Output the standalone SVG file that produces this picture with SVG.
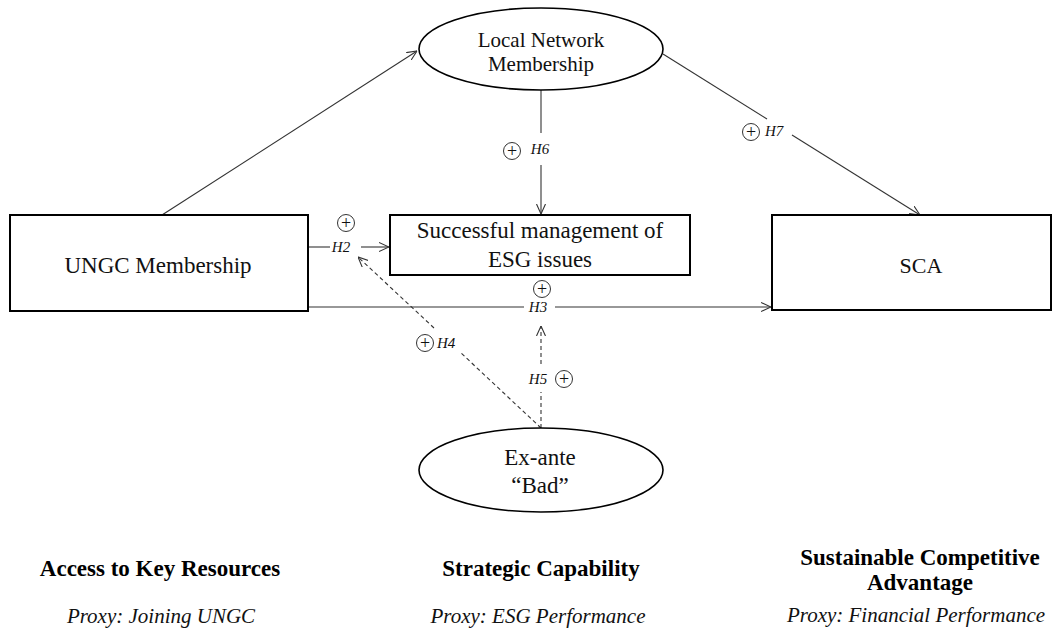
<svg xmlns="http://www.w3.org/2000/svg" width="1062" height="628" viewBox="0 0 1062 628">
  <style>
    .node { fill: #fff; stroke: #000; stroke-width: 2; }
    .ell { fill: #fff; stroke: #000; stroke-width: 1.6; }
    .lbl { font-family: "Liberation Serif", "Times New Roman", serif; fill: #111; text-anchor: middle; }
    .conn { stroke: #333; stroke-width: 1.1; fill: none; }
    .dash { stroke-dasharray: 4 3; }
    .hyp { font-family: "Liberation Serif", "Times New Roman", serif; font-style: italic; font-size: 15px; fill: #111; }
    .sign circle { fill: #fff; stroke: #333; stroke-width: 1; }
    .sign text { font-family: "Liberation Serif", serif; font-size: 18px; fill: #111; text-anchor: middle; }
    .title { font-family: "Liberation Serif", "Times New Roman", serif; font-weight: bold; font-size: 23px; fill: #000; text-anchor: middle; }
    .proxy { font-family: "Liberation Serif", "Times New Roman", serif; font-style: italic; font-size: 21px; fill: #111; text-anchor: middle; }
  </style>
  <defs>
    <marker id="arrow" viewBox="0 0 10 10" refX="10" refY="5" markerWidth="10" markerHeight="10" markerUnits="userSpaceOnUse" orient="auto">
      <path d="M0,0.5 L10,5 L0,9.5" fill="none" stroke="#333" stroke-width="1.1"/>
    </marker>
  </defs>

  <rect width="1062" height="628" fill="#fff"/>

  <!-- connectors -->
  <g id="connectors">
    <!-- UNGC -> Local Network -->
    <line class="conn" x1="162" y1="215" x2="417" y2="51" marker-end="url(#arrow)"/>
    <!-- H6: Local Network -> ESG -->
    <line class="conn" x1="541" y1="90" x2="541" y2="133"/>
    <line class="conn" x1="541" y1="165" x2="541" y2="214" marker-end="url(#arrow)"/>
    <!-- H7: Local Network -> SCA -->
    <line class="conn" x1="663" y1="54" x2="767" y2="119"/>
    <line class="conn" x1="792" y1="135" x2="920" y2="215" marker-end="url(#arrow)"/>
    <!-- H2: UNGC -> ESG -->
    <line class="conn" x1="308" y1="247" x2="330" y2="247"/>
    <line class="conn" x1="361" y1="247" x2="389" y2="247" marker-end="url(#arrow)"/>
    <!-- H3: UNGC -> SCA -->
    <line class="conn" x1="308" y1="307" x2="524" y2="307"/>
    <line class="conn" x1="555" y1="307" x2="771" y2="307" marker-end="url(#arrow)"/>
    <!-- H4: Ex-ante -> H2 path (moderation) -->
    <line class="conn dash" x1="541" y1="428" x2="460" y2="352"/>
    <line class="conn dash" x1="434" y1="328" x2="358" y2="257" marker-end="url(#arrow)"/>
    <!-- H5: Ex-ante -> H3 path (moderation) -->
    <line class="conn dash" x1="541" y1="428" x2="541" y2="392"/>
    <line class="conn dash" x1="541" y1="364" x2="541" y2="326" marker-end="url(#arrow)"/>
  </g>

  <!-- hypothesis labels -->
  <g id="hypotheses">
    <g class="sign"><circle cx="346" cy="223" r="8.5"/><text x="346" y="229">+</text></g>
    <text class="hyp" x="341" y="252" text-anchor="middle">H2</text>

    <g class="sign"><circle cx="542" cy="289" r="8.5"/><text x="542" y="295">+</text></g>
    <text class="hyp" x="538" y="312" text-anchor="middle">H3</text>

    <g class="sign"><circle cx="425" cy="343" r="8.5"/><text x="425" y="349">+</text></g>
    <text class="hyp" x="437" y="348">H4</text>

    <text class="hyp" x="538" y="384" text-anchor="middle">H5</text>
    <g class="sign"><circle cx="564" cy="379" r="8.5"/><text x="564" y="385">+</text></g>

    <g class="sign"><circle cx="512" cy="151" r="8.5"/><text x="512" y="157">+</text></g>
    <text class="hyp" x="540" y="154" text-anchor="middle">H6</text>

    <g class="sign"><circle cx="751" cy="132" r="8.5"/><text x="751" y="138">+</text></g>
    <text class="hyp" x="765" y="136">H7</text>
  </g>

  <!-- nodes -->
  <g id="local-network">
    <ellipse class="ell" cx="541" cy="49" rx="122" ry="41"/>
    <text class="lbl" x="541" y="47" font-size="21">Local Network</text>
    <text class="lbl" x="541" y="71" font-size="21">Membership</text>
  </g>

  <g id="ungc">
    <rect class="node" x="10" y="215" width="298" height="96"/>
    <text class="lbl" x="158" y="273" font-size="23">UNGC Membership</text>
  </g>

  <g id="esg">
    <rect class="node" x="390" y="215" width="300" height="60"/>
    <text class="lbl" x="540" y="238" font-size="23">Successful management of</text>
    <text class="lbl" x="540" y="267" font-size="23">ESG issues</text>
  </g>

  <g id="sca">
    <rect class="node" x="772" y="215" width="279" height="95"/>
    <text class="lbl" x="921" y="273" font-size="22">SCA</text>
  </g>

  <g id="ex-ante">
    <ellipse class="ell" cx="541" cy="470" rx="122" ry="42"/>
    <text class="lbl" x="540" y="465" font-size="23">Ex-ante</text>
    <text class="lbl" x="540" y="493" font-size="23">“Bad”</text>
  </g>

  <!-- column captions -->
  <g id="captions">
    <text class="title" x="160" y="576">Access to Key Resources</text>
    <text class="proxy" x="161" y="623">Proxy:  Joining UNGC</text>

    <text class="title" x="541" y="576">Strategic Capability</text>
    <text class="proxy" x="538" y="623">Proxy:  ESG Performance</text>

    <text class="title" x="920" y="565">Sustainable Competitive</text>
    <text class="title" x="920" y="590">Advantage</text>
    <text class="proxy" x="916" y="622">Proxy:  Financial Performance</text>
  </g>
</svg>
